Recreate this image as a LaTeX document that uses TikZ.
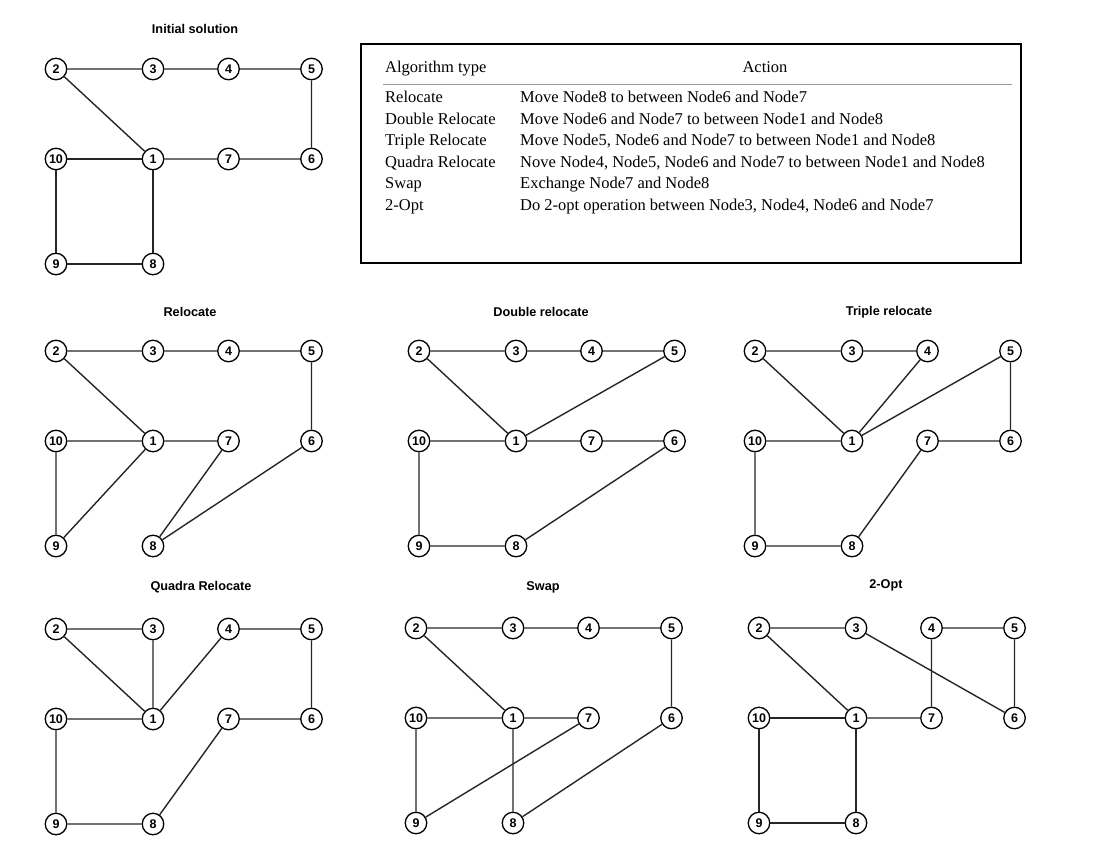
\documentclass[tikz,border=0pt]{standalone}
\usepackage{fontspec}
\setmainfont{Liberation Sans}
\newfontfamily\tablefont{Liberation Serif}
\usepackage{tikz}

% ten customers of one solution, #2/#3 = position of node 2
\newcommand{\tour}[3]{%
  \node[city] (#1-2) at (#2,#3) {2};
  \node[city] (#1-3) at (#2+97,#3) {3};
  \node[city] (#1-4) at (#2+172.5,#3) {4};
  \node[city] (#1-5) at (#2+255.5,#3) {5};
  \node[city] (#1-10) at (#2,#3+90) {10};
  \node[city] (#1-1) at (#2+97,#3+90) {1};
  \node[city] (#1-7) at (#2+172.5,#3+90) {7};
  \node[city] (#1-6) at (#2+255.5,#3+90) {6};
  \node[city] (#1-9) at (#2,#3+195) {9};
  \node[city] (#1-8) at (#2+97,#3+195) {8};
}

\begin{document}
\begin{tikzpicture}[x=1pt,y=-1pt]
\tikzstyle{city} = [circle,draw=black,fill=white,line width=1.3pt,minimum size=21.5pt,inner sep=0pt,font=\fontsize{12.5}{13}\selectfont\bfseries]
\tikzstyle{route} = [line width=1.4pt,black!85]
\tikzstyle{caption} = [font=\fontsize{12.7}{14}\selectfont\bfseries]
\tikzstyle{cell} = [anchor=base west,inner sep=0pt,font=\tablefont\fontsize{16.5}{18}\selectfont]
\useasboundingbox (0,0) rectangle (1094,861);

    % titles
    \node[caption] (tinit) at (195,29) {Initial solution};
    \node[caption] (treloc) at (190,312) {Relocate};
    \node[caption] (tdouble) at (541,312) {Double relocate};
    \node[caption] (ttriple) at (889,312) {Triple relocate};
    \node[caption] (tquadra) at (201,587) {Quadra Relocate};
    \node[caption] (tswap) at (543,587) {Swap};
    \node[caption] (topt) at (886,585) {2-Opt};

    \tour{init}{56}{69}
    \tour{reloc}{56}{351}
    \tour{double}{419}{351}
    \tour{triple}{755}{351}
    \tour{quadra}{56}{629}
    \tour{swap}{416}{628}
    \tour{opt}{759}{628}

    % initial solution
    \draw[route] (init-1) -- (init-2) -- (init-3) -- (init-4) -- (init-5) -- (init-6) -- (init-7) -- (init-1);
    \draw[route] (init-1) -- (init-10) -- (init-9) -- (init-8) -- (init-1);
    % relocate
    \draw[route] (reloc-1) -- (reloc-2) -- (reloc-3) -- (reloc-4) -- (reloc-5) -- (reloc-6) -- (reloc-8) -- (reloc-7) -- (reloc-1);
    \draw[route] (reloc-1) -- (reloc-10) -- (reloc-9) -- (reloc-1);
    % double relocate
    \draw[route] (double-1) -- (double-2) -- (double-3) -- (double-4) -- (double-5) -- (double-1);
    \draw[route] (double-1) -- (double-7) -- (double-6) -- (double-8) -- (double-9) -- (double-10) -- (double-1);
    % triple relocate
    \draw[route] (triple-1) -- (triple-2) -- (triple-3) -- (triple-4) -- (triple-1);
    \draw[route] (triple-1) -- (triple-5) -- (triple-6) -- (triple-7) -- (triple-8) -- (triple-9) -- (triple-10) -- (triple-1);
    % quadra relocate
    \draw[route] (quadra-1) -- (quadra-2) -- (quadra-3) -- (quadra-1);
    \draw[route] (quadra-1) -- (quadra-4) -- (quadra-5) -- (quadra-6) -- (quadra-7) -- (quadra-8) -- (quadra-9) -- (quadra-10) -- (quadra-1);
    % swap
    \draw[route] (swap-1) -- (swap-2) -- (swap-3) -- (swap-4) -- (swap-5) -- (swap-6) -- (swap-8) -- (swap-1);
    \draw[route] (swap-1) -- (swap-7) -- (swap-9) -- (swap-10) -- (swap-1);
    % 2-opt
    \draw[route] (opt-1) -- (opt-2) -- (opt-3) -- (opt-6) -- (opt-5) -- (opt-4) -- (opt-7) -- (opt-1);
    \draw[route] (opt-1) -- (opt-8) -- (opt-9) -- (opt-10) -- (opt-1);

    % table of moves
    \draw[line width=1.4pt] (361,44) rectangle (1021,263);
    \draw[line width=1.2pt,black!40] (383,84.3) -- (1012,84.3);
    \node[cell] (hType) at (385,72.3) {Algorithm type};
    \node[cell,anchor=base] (hAct) at (765,72.3) {Action};
    \node[cell] (r1) at (385,102.6) {Relocate};
    \node[cell] (a1) at (520,102.6) {Move Node8 to between Node6 and Node7};
    \node[cell] (r2) at (385,124.1) {Double Relocate};
    \node[cell] (a2) at (520,124.1) {Move Node6 and Node7 to between Node1 and Node8};
    \node[cell] (r3) at (385,145.6) {Triple Relocate};
    \node[cell] (a3) at (520,145.6) {Move Node5, Node6 and Node7 to between Node1 and Node8};
    \node[cell] (r4) at (385,167.1) {Quadra Relocate};
    \node[cell] (a4) at (520,167.1) {Nove Node4, Node5, Node6 and Node7 to between Node1 and Node8};
    \node[cell] (r5) at (385,188.6) {Swap};
    \node[cell] (a5) at (520,188.6) {Exchange Node7 and Node8};
    \node[cell] (r6) at (385,210.1) {2-Opt};
    \node[cell] (a6) at (520,210.1) {Do 2-opt operation between Node3, Node4, Node6 and Node7};
\end{tikzpicture}
\end{document}
